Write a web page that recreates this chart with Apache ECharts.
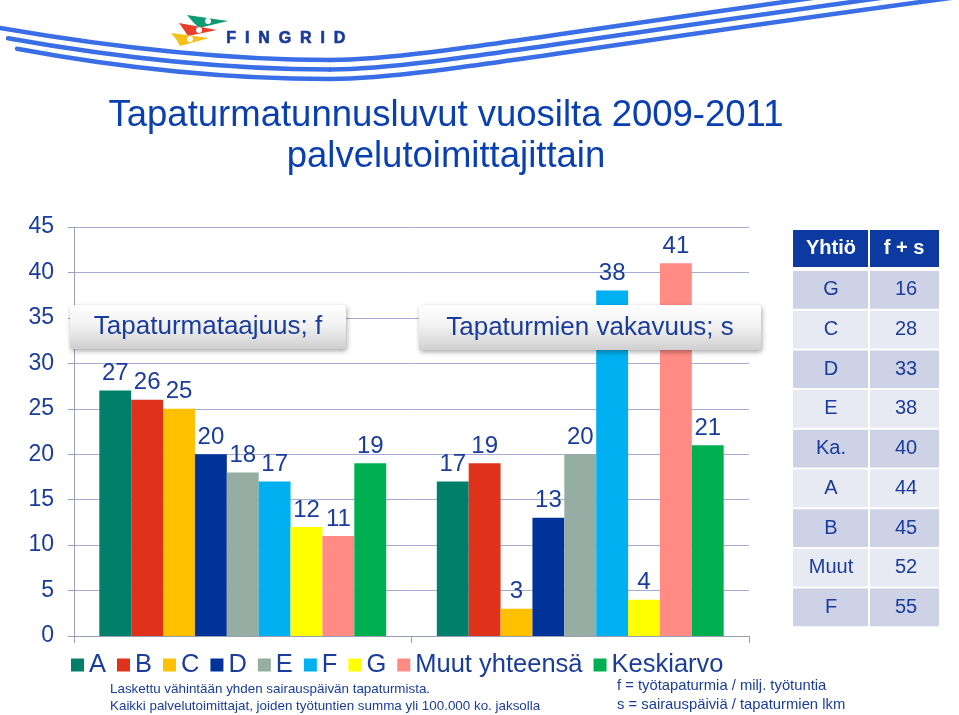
<!DOCTYPE html>
<html>
<head>
<meta charset="utf-8">
<script src="https://cdn.jsdelivr.net/npm/echarts@6/dist/echarts.min.js"></script>
<style>html,body{margin:0;padding:0;background:#fff}#c{width:959px;height:715px}</style>
</head>
<body>
<div id="c"></div>
<script>
const groups = ['Tapaturmataajuus; f', 'Tapaturmien vakavuus; s'];
const seriesNames = ['A', 'B', 'C', 'D', 'E', 'F', 'G', 'Muut yhteensä', 'Keskiarvo'];
const fValues = [27, 26, 25, 20, 18, 17, 12, 11, 19];
const sValues = [17, 19, 3, 13, 20, 38, 4, 41, 21];
const colors = ['#00806A', '#E0321A', '#FFC000', '#003399', '#95ADA3', '#00B0F0', '#FFFF00', '#FF8B84', '#00B050'];
const yTicks = [0, 5, 10, 15, 20, 25, 30, 35, 40, 45];
const tableHeader = ['Yhtiö', 'f + s'];
const tableCompanies = ['G', 'C', 'D', 'E', 'Ka.', 'A', 'B', 'Muut', 'F'];
const tableValues = [16, 28, 33, 38, 40, 44, 45, 52, 55];
const titleLines = ['Tapaturmatunnusluvut vuosilta 2009-2011', 'palvelutoimittajittain'];
const notesLeft = ['Laskettu vähintään yhden sairauspäivän tapaturmista.', 'Kaikki palvelutoimittajat, joiden työtuntien summa yli 100.000 ko. jaksolla'];
const notesRight = ['f = työtapaturmia / milj. työtuntia', 's = sairauspäiviä / tapaturmien lkm'];

const TXT = '#1A3C9C';
const FONT = 'Liberation Sans, Arial, sans-serif';

const chart = echarts.init(document.getElementById('c'));

const series = seriesNames.map((n, i) => ({
  name: n,
  type: 'bar',
  data: [fValues[i], sValues[i]],
  itemStyle: { color: colors[i] },
  barGap: '0%',
  barCategoryGap: '15%',
  label: { show: true, position: 'top', distance: 5, color: TXT, fontSize: 24, fontFamily: FONT },
  z: 2
}));

const graphics = [];
// swoosh lines (decoration), two bezier segments each
[[0, 0], [8, 9.5], [17, 19]].forEach(([sx, dy]) => {
  const st = { stroke: '#3A6EE6', lineWidth: 4.5, fill: null, lineCap: 'round' };
  graphics.push({
    type: 'bezierCurve',
    shape: { x1: sx, y1: 28 + dy + sx * 0.1, cpx1: 110, cpy1: 47 + dy, cpx2: 220, cpy2: 60 + dy, x2: 330, y2: 60 + dy },
    style: st, z: 1
  });
  graphics.push({
    type: 'bezierCurve',
    shape: { x1: 330, y1: 60 + dy, cpx1: 420, cpy1: 60 + dy, cpx2: 560, cpy2: 31 + dy, x2: 980, y2: -25 + dy },
    style: st, z: 1
  });
});
// flags
graphics.push({ type: 'polygon', shape: { points: [[187, 15], [228, 21], [199, 28], [193, 22]] }, style: { fill: '#0E9A72' } });
graphics.push({ type: 'polygon', shape: { points: [[179, 23], [217, 30], [188, 36], [184, 30]] }, style: { fill: '#E6402A' } });
graphics.push({ type: 'polygon', shape: { points: [[171, 33], [209, 38], [180, 46], [176, 39]] }, style: { fill: '#F5C118' } });
graphics.push({ type: 'circle', shape: { cx: 208, cy: 21, r: 3 }, style: { fill: '#fff' } });
graphics.push({ type: 'circle', shape: { cx: 199, cy: 30, r: 3 }, style: { fill: '#fff' } });
graphics.push({ type: 'circle', shape: { cx: 190, cy: 39, r: 3 }, style: { fill: '#fff' } });
graphics.push({ type: 'text', left: 226, top: 30, style: { text: 'F  I  N  G  R  I  D', font: 'bold 16px ' + FONT, fill: '#1A3A9A', stroke: '#1A3A9A', lineWidth: 0.6 } });

// titles
titleLines.forEach((t, i) => {
  graphics.push({ type: 'text', x: 446, y: 116 + i * 41, style: { text: t, font: '36.5px ' + FONT, fill: '#0A3FB0', textAlign: 'center', textVerticalAlign: 'middle' } });
});

// group boxes
const boxes = [[70, 305, 276, 44], [419, 305, 342, 45]];
groups.forEach((g, i) => {
  const b = boxes[i];
  graphics.push({
    type: 'rect', shape: { x: b[0], y: b[1], width: b[2], height: b[3], r: 3 },
    style: {
      fill: new echarts.graphic.LinearGradient(0, 0, 0, 1, [{ offset: 0, color: '#FFFFFF' }, { offset: 0.5, color: '#F0F0F0' }, { offset: 1, color: '#CFCFCF' }]),
      shadowBlur: 5, shadowColor: 'rgba(0,0,0,0.35)', shadowOffsetY: 2, shadowOffsetX: 1
    }, z: 10
  });
  graphics.push({ type: 'text', x: b[0] + b[2] / 2, y: b[1] + b[3] / 2, style: { text: g, font: '26px ' + FONT, fill: TXT, textAlign: 'center', textVerticalAlign: 'middle' }, z: 11 });
});

// table
const tx0 = 793, tx1 = 869, tx2 = 939, hy = 230, hh = 37, ry0 = 271, rh = 39.7;
graphics.push({ type: 'rect', shape: { x: tx0, y: hy, width: tx1 - tx0 - 1, height: hh }, style: { fill: '#0C3AA0' } });
graphics.push({ type: 'rect', shape: { x: tx1 + 1, y: hy, width: tx2 - tx1 - 1, height: hh }, style: { fill: '#0C3AA0' } });
graphics.push({ type: 'text', x: (tx0 + tx1) / 2, y: hy + hh / 2, style: { text: tableHeader[0], font: 'bold 20px ' + FONT, fill: '#fff', textAlign: 'center', textVerticalAlign: 'middle' } });
graphics.push({ type: 'text', x: (tx1 + tx2) / 2, y: hy + hh / 2, style: { text: tableHeader[1], font: 'bold 20px ' + FONT, fill: '#fff', textAlign: 'center', textVerticalAlign: 'middle' } });
tableCompanies.forEach((c, i) => {
  const y = ry0 + i * rh;
  const fill = i % 2 === 0 ? '#CDD2E6' : '#E8EAF3';
  graphics.push({ type: 'rect', shape: { x: tx0, y: y, width: tx1 - tx0 - 1, height: rh - 2 }, style: { fill } });
  graphics.push({ type: 'rect', shape: { x: tx1 + 1, y: y, width: tx2 - tx1 - 1, height: rh - 2 }, style: { fill } });
  graphics.push({ type: 'text', x: (tx0 + tx1) / 2, y: y + (rh - 2) / 2, style: { text: c, font: '20px ' + FONT, fill: TXT, textAlign: 'center', textVerticalAlign: 'middle' } });
  graphics.push({ type: 'text', x: (tx1 + tx2) / 2 + 2, y: y + (rh - 2) / 2, style: { text: String(tableValues[i]), font: '20px ' + FONT, fill: TXT, textAlign: 'center', textVerticalAlign: 'middle' } });
});

// notes
notesLeft.forEach((t, i) => {
  graphics.push({ type: 'text', x: 110, y: 689 + i * 17, style: { text: t, font: '13.4px ' + FONT, fill: TXT, textVerticalAlign: 'middle' } });
});
notesRight.forEach((t, i) => {
  graphics.push({ type: 'text', x: 617, y: 686 + i * 19, style: { text: t, font: '14.8px ' + FONT, fill: TXT, textVerticalAlign: 'middle' } });
});

chart.setOption({
  animation: false,
  grid: { left: 74, right: 210, top: 227, bottom: 79 },
  legend: {
    data: seriesNames, left: 66, top: 647, itemWidth: 13, itemHeight: 13, itemGap: 11,
    icon: 'rect',
    textStyle: { color: TXT, fontSize: 25.5, fontFamily: FONT }
  },
  xAxis: {
    type: 'category', data: groups,
    axisLine: { lineStyle: { color: '#9A9FB5', width: 1 } },
    axisTick: { show: true, length: 7, lineStyle: { color: '#9A9FB5' } },
    axisLabel: { show: false }
  },
  yAxis: {
    type: 'value', min: yTicks[0], max: yTicks[yTicks.length - 1], interval: 5,
    axisLine: { show: true, lineStyle: { color: '#9A9FB5' } },
    axisTick: { show: true, length: 6, lineStyle: { color: '#9A9FB5' } },
    axisLabel: { color: TXT, fontSize: 23, fontFamily: FONT, margin: 20 },
    splitLine: { lineStyle: { color: '#A4ACD6', width: 1 } }
  },
  series: series,
  graphic: graphics
});
</script>
</body>
</html>
